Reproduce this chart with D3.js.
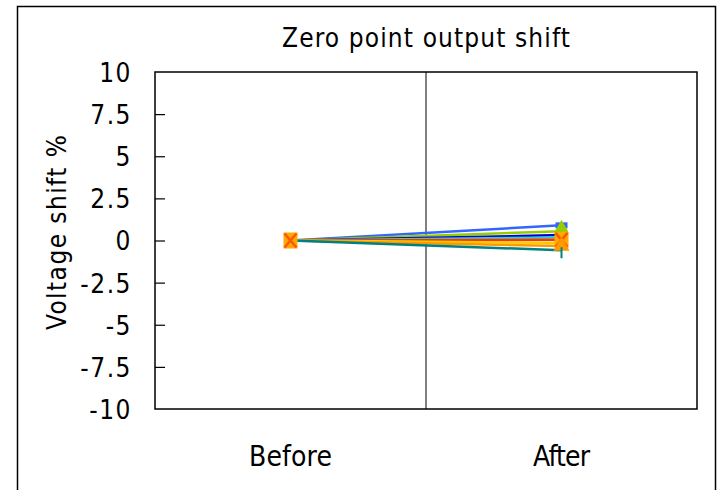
<!DOCTYPE html>
<html>
<head>
<meta charset="utf-8">
<script src="https://cdn.jsdelivr.net/npm/d3@7"></script>
<style>
  body { margin: 0; background: #fff; }
  text { font-family: "Liberation Sans Narrow", "DejaVu Sans Condensed", sans-serif; fill: #000; }
</style>
</head>
<body>
<div id="grafico"></div>
<script>
// Datos
var categorias = ["Before", "After"];
var series_nombres = ["S1", "S2", "S3", "S4", "S5", "S6", "S7", "S8"];
var valores_before = [0, 0, 0, 0, 0, 0, 0, 0];
var valores_after = [0.9, 0.55, 0.32, 0.18, 0.04, -0.15, -0.33, -0.58];
var colores = ["#3366ff", "#99cc00", "#0000cc", "#33cccc", "#ff3300", "#ffcc00", "#ff9900", "#008080"];
var marcadores = ["square", "diamond", "none", "none", "x", "none", "triangle", "plus"];
var ticks_y = [-10, -7.5, -5, -2.5, 0, 2.5, 5, 7.5, 10];

var W = 721, H = 490;
var margin = {top: 72, right: 24, bottom: 81, left: 155};
var width = W - margin.left - margin.right,
    height = H - margin.top - margin.bottom;

var svg = d3.select("#grafico")
  .append("svg")
    .attr("width", W)
    .attr("height", H);

// Marco exterior
svg.append("rect")
  .attr("x", 17.5).attr("y", 6.5)
  .attr("width", 698).attr("height", 500)
  .attr("fill", "none")
  .attr("stroke", "#000")
  .attr("stroke-width", 1.5);

var g = svg.append("g")
  .attr("transform", "translate(" + margin.left + "," + margin.top + ")");

// Escalas
var x = d3.scaleBand().domain(categorias).range([0, width]);
var y = d3.scaleLinear().domain([-10, 10]).range([height, 0]);

// Eje Y con ticks hacia dentro
var ejeY = g.append("g")
  .call(d3.axisRight(y).tickValues(ticks_y).tickSize(10).tickFormat(function(d){ return d; }));
ejeY.select(".domain").remove();
ejeY.selectAll("line").attr("stroke", "#000").attr("stroke-width", 1.2);
ejeY.selectAll("text")
  .attr("x", -23)
  .attr("dy", "0.36em")
  .attr("text-anchor", "end")
  .style("font-size", "26px")
  .style("letter-spacing", "1.5px");
ejeY.selectAll(".tick").filter(function(d){ return d == 10 || d == -10; }).select("line").remove();

// Linea divisoria entre categorias
g.append("line")
  .attr("x1", x("After")).attr("x2", x("After"))
  .attr("y1", 0).attr("y2", height)
  .attr("stroke", "#000").attr("stroke-width", 1);

// Etiquetas X
var anchos_cat = {"Before": 83, "After": 57};
g.selectAll(".cat")
  .data(categorias)
  .enter()
  .append("text")
  .attr("x", function(d){ return x(d) + x.bandwidth()/2 - anchos_cat[d]/2; })
  .attr("y", height + 57)
  .attr("textLength", function(d){ return anchos_cat[d]; })
  .attr("lengthAdjust", "spacing")
  .style("font-size", "28px")
  .text(function(d){ return d; });

// Lineas de las series
var datos = series_nombres.map(function(n, i){
  return {nombre: n, color: colores[i], marca: marcadores[i],
          puntos: [{c: "Before", v: valores_before[i]}, {c: "After", v: valores_after[i]}]};
});

var linea = d3.line()
  .x(function(d){ return x(d.c) + x.bandwidth()/2; })
  .y(function(d){ return y(d.v); });

g.selectAll(".serie")
  .data(datos)
  .enter()
  .append("path")
  .attr("d", function(d){ return linea(d.puntos); })
  .attr("fill", "none")
  .attr("stroke", function(d){ return d.color; })
  .attr("stroke-width", 2.5);

// Marcadores
function dibujaMarca(sel, d, px, py) {
  if (d.marca == "square") {
    sel.append("rect").attr("x", px - 6).attr("y", py - 3).attr("width", 12).attr("height", 6).attr("fill", d.color);
  } else if (d.marca == "diamond") {
    sel.append("path").attr("d", d3.symbol(d3.symbolDiamond, 150)()).attr("transform", "translate(" + px + "," + py + ")").attr("fill", d.color);
  } else if (d.marca == "x") {
    sel.append("rect").attr("x", px - 7).attr("y", py - 8).attr("width", 14).attr("height", 16).attr("fill", "#ffaa00");
    sel.append("path").attr("d", "M" + (px-6) + "," + (py-7) + "L" + (px+6) + "," + (py+7) + "M" + (px+6) + "," + (py-7) + "L" + (px-6) + "," + (py+7))
      .attr("stroke", "#ff5500").attr("stroke-width", 2.5);
  } else if (d.marca == "triangle") {
    sel.append("path").attr("d", d3.symbol(d3.symbolTriangle, 110)()).attr("transform", "translate(" + px + "," + py + ")").attr("fill", d.color);
  } else if (d.marca == "plus") {
    sel.append("line").attr("x1", px).attr("x2", px).attr("y1", py - 3).attr("y2", py + 8).attr("stroke", d.color).attr("stroke-width", 2);
  }
}

// Before: todas en cero, marca cuadrada naranja con X
var gm = g.append("g");
datos.forEach(function(d){
  d.puntos.forEach(function(p){
    var px = x(p.c) + x.bandwidth()/2, py = y(p.v);
    if (p.c == "Before") {
      if (d.marca == "x") dibujaMarca(gm, d, px, py);
    } else {
      dibujaMarca(gm, d, px, py);
    }
  });
});

// Borde del area del grafico
g.append("rect")
  .attr("width", width).attr("height", height)
  .attr("fill", "none")
  .attr("stroke", "#000")
  .attr("stroke-width", 1.5);

// Titulo
svg.append("text")
  .attr("x", 282)
  .attr("y", 47)
  .attr("textLength", 288)
  .attr("lengthAdjust", "spacing")
  .style("font-size", "26px")
  .text("Zero point output shift");

// Etiqueta eje Y
svg.append("text")
  .attr("transform", "translate(66,330) rotate(-90)")
  .attr("textLength", 195)
  .attr("lengthAdjust", "spacing")
  .style("font-size", "26px")
  .text("Voltage shift %");
</script>
</body>
</html>
